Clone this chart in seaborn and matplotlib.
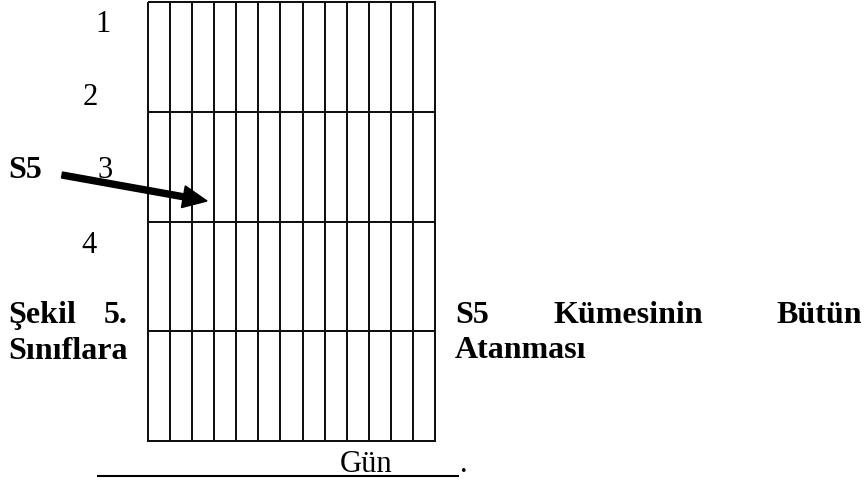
import matplotlib

matplotlib.use("Agg")
import matplotlib.pyplot as plt
import numpy as np
import seaborn as sns
from matplotlib.colors import ListedColormap

# classes (rows) and days (columns) of the assignment grid
CLASS_LABELS = ["1", "2", "3", "4"]
N_DAYS = 13
GRID_VALUES = np.zeros((len(CLASS_LABELS), N_DAYS))
CLUSTER_NAME = "S5"
AXIS_LABEL = "Gün"
CAPTION_LEFT = ["Şekil", "5.", "Sınıflara"]
CAPTION_RIGHT = ["S5", "Kümesinin", "Bütün", "Atanması"]

W, H = 866, 484
FONT = "Liberation Serif"
FS = 22
FS_BOLD = 23


def main() -> None:
    sns.set_theme(style="white")
    plt.rcParams["font.family"] = [FONT, "DejaVu Serif"]
    plt.rcParams["text.color"] = "black"

    fig = plt.figure(figsize=(W / 100, H / 100), dpi=100)

    # grid box in pixel coords: x 148..435, y 2..441
    gx = fig.add_axes([148 / W, (H - 441) / H, 287 / W, 439 / H])
    sns.heatmap(
        GRID_VALUES,
        ax=gx,
        cmap=ListedColormap(["white"]),
        cbar=False,
        linewidths=1.1,
        linecolor="#111111",
        xticklabels=False,
        yticklabels=False,
    )
    for coll in gx.collections:
        coll.set_clip_on(False)
    gx.set_xlabel("")
    gx.set_ylabel("")
    gx.set_zorder(1)

    # overlay axes in pixel coordinates for text and arrow
    ax = fig.add_axes([0, 0, 1, 1])
    ax.set_xlim(0, W)
    ax.set_ylim(H, 0)
    ax.axis("off")
    ax.set_zorder(2)
    ax.patch.set_alpha(0)

    # class numbers on the left of the grid
    label_pos = [(103, 32), (90, 105), (105, 178), (89, 253)]
    for lab, (x, y) in zip(CLASS_LABELS, label_pos):
        ax.text(x, y, lab, fontsize=FS, ha="center", va="baseline", color="black")

    # S5 cluster and arrow
    ax.text(8, 178, CLUSTER_NAME, fontsize=FS_BOLD, fontweight="bold", ha="left", va="baseline")
    ax.arrow(62, 175, 207 - 62, 201 - 175, width=6, head_width=22, head_length=24,
             length_includes_head=True, color="black")

    # caption, justified around the grid
    bold = dict(fontsize=FS_BOLD, fontweight="bold", va="baseline", color="black")
    ax.text(8, 323, CAPTION_LEFT[0], ha="left", **bold)
    ax.text(128, 323, CAPTION_LEFT[1], ha="right", **bold)
    ax.text(8, 359, CAPTION_LEFT[2], ha="left", **bold)

    ax.text(455, 323, CAPTION_RIGHT[0], ha="left", **bold)
    ax.text(553, 323, CAPTION_RIGHT[1], ha="left", **bold)
    ax.text(862, 323, CAPTION_RIGHT[2], ha="right", **bold)
    ax.text(455, 358, CAPTION_RIGHT[3], ha="left", **bold)

    # day axis label with underline
    ax.text(340, 472, AXIS_LABEL, fontsize=FS, ha="left", va="baseline", color="black")
    ax.plot([97, 459], [475.5, 475.5], color="black", lw=1.5, solid_capstyle="butt")
    ax.text(460, 472, ".", fontsize=FS, ha="left", va="baseline", color="black")

    fig.savefig("out.png", dpi=100, facecolor="white")
    plt.close(fig)


if __name__ == "__main__":
    main()
